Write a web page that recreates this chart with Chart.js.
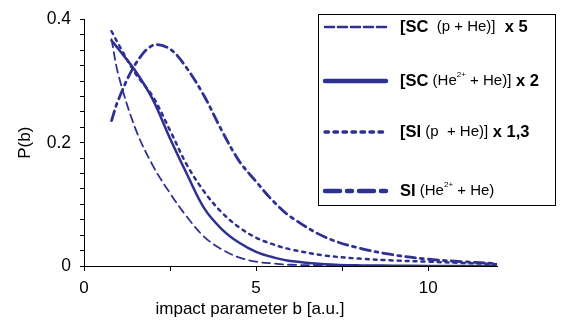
<!DOCTYPE html>
<html>
<head>
<meta charset="utf-8">
<script src="https://cdn.jsdelivr.net/npm/chart.js@4/dist/chart.umd.min.js"></script>
<style>
  html, body { margin: 0; padding: 0; background: #fff; }
  #wrap { width: 561px; height: 325px; position: relative; }
</style>
</head>
<body>
<div id="wrap"><canvas id="chart" width="561" height="325"></canvas></div>
<script>
// impact parameter b [a.u.]
const bValues = [0.8, 1, 1.5, 2, 2.5, 3, 3.5, 4, 4.5, 5, 5.5, 6, 7, 8, 9, 10, 11, 12];

// P(b) series, already scaled as in the legend
const scProton = [0.368, 0.31, 0.222, 0.163, 0.118, 0.079, 0.047, 0.027, 0.014, 0.007, 0.004, 0.002, 0.001, 0.0005, 0, 0, 0, 0];
const scAlpha = [0.366, 0.352, 0.316, 0.27, 0.207, 0.148, 0.093, 0.06, 0.038, 0.023, 0.014, 0.008, 0.003, 0.001, 0.0005, 0, 0, 0];
const siProton = [0.381, 0.36, 0.312, 0.275, 0.22, 0.163, 0.12, 0.087, 0.063, 0.046, 0.035, 0.027, 0.017, 0.012, 0.009, 0.007, 0.005, 0.003];
const siAlpha = [0.236, 0.27, 0.328, 0.358, 0.352, 0.32, 0.275, 0.22, 0.171, 0.137, 0.105, 0.08, 0.047, 0.029, 0.018, 0.011, 0.007, 0.004];

const xTickLabels = ['0', '5', '10'];
const yTickLabels = ['0', '0.2', '0.4'];

const navy = '#2e3192';
const fontFamily = '"Liberation Sans", Arial, sans-serif';

function pts(arr) {
    return arr.map((v, i) => ({ x: bValues[i], y: v }));
}

// legend entries: text pieces as [text, kind] with b = bold, n = normal, s = superscript
const legendItems = [
    { dash: [9, 4], width: 2.5, parts: [['[SC', 'b'], ['  (p + He)]', 'n'], ['  x 5', 'b']] },
    { dash: [], width: 4.5, parts: [['[SC', 'b'], [' (He', 'n'], ['2+', 's'], [' + He)]', 'n'], [' x 2', 'b']] },
    { dash: [3.5, 5.5], width: 3.5, parts: [['[SI', 'b'], [' (p  + He)]', 'n'], [' x 1,3', 'b']] },
    { dash: [15, 7, 5, 7], width: 4.5, parts: [['SI', 'b'], [' (He', 'n'], ['2+', 's'], [' + He)', 'n']] }
];

const legendPlugin = {
    id: 'boxLegend',
    afterDraw(chart) {
        const ctx = chart.ctx;
        ctx.save();

        // x axis title, placed left of centre like the original
        ctx.fillStyle = '#000';
        ctx.font = '17px ' + fontFamily;
        ctx.textAlign = 'center';
        ctx.textBaseline = 'middle';
        ctx.fillText('impact parameter b [a.u.]', 250, 309);
        ctx.textAlign = 'left';

        const bx = 318.5, by = 14.5, bw = 237, bh = 191;
        ctx.fillStyle = '#fff';
        ctx.fillRect(bx, by, bw, bh);
        ctx.strokeStyle = '#000';
        ctx.lineWidth = 1;
        ctx.strokeRect(bx, by, bw, bh);
        const rows = [27, 81, 132, 191];
        legendItems.forEach((item, i) => {
            const y = rows[i];
            ctx.strokeStyle = navy;
            ctx.lineWidth = item.width;
            ctx.lineCap = 'round';
            ctx.setLineDash(item.dash);
            ctx.beginPath();
            ctx.moveTo(325, y);
            ctx.lineTo(386, y);
            ctx.stroke();
            ctx.setLineDash([]);
            let x = 400;
            ctx.fillStyle = '#000';
            ctx.textBaseline = 'middle';
            item.parts.forEach(([txt, kind]) => {
                if (kind === 'b') {
                    ctx.font = 'bold 16.5px ' + fontFamily;
                    ctx.fillText(txt, x, y);
                } else if (kind === 's') {
                    ctx.font = '8px ' + fontFamily;
                    ctx.fillText(txt, x, y - 6);
                } else {
                    ctx.font = '15px ' + fontFamily;
                    ctx.fillText(txt, x, y);
                }
                x += ctx.measureText(txt).width;
            });
        });
        ctx.restore();
    }
};

const ctx = document.getElementById('chart').getContext('2d');
new Chart(ctx, {
    type: 'line',
    data: {
        datasets: [
            { label: 'SC p', data: pts(scProton), borderColor: navy, borderWidth: 1.8, borderDash: [8, 5] },
            { label: 'SC He2+', data: pts(scAlpha), borderColor: navy, borderWidth: 2.5, borderDash: [] },
            { label: 'SI p', data: pts(siProton), borderColor: navy, borderWidth: 2.5, borderDash: [3, 5] },
            { label: 'SI He2+', data: pts(siAlpha), borderColor: navy, borderWidth: 2.8, borderDash: [10, 5, 3, 5] }
        ].map(d => Object.assign(d, { fill: false, pointRadius: 0, tension: 0.35, borderCapStyle: 'round' }))
    },
    options: {
        responsive: false,
        animation: false,
        maintainAspectRatio: false,
        layout: { padding: { top: 10, right: 64, left: 0, bottom: 0 } },
        plugins: { legend: { display: false }, tooltip: { enabled: false } },
        scales: {
            x: {
                type: 'linear',
                min: 0,
                max: 12,
                afterBuildTicks: (scale) => {
                    scale.ticks = [0, 2.5, 5, 7.5, 10].map(v => ({ value: v }));
                },
                afterFit: (scale) => { scale.height = 59; },
                ticks: {
                    color: '#000',
                    font: { size: 17, family: fontFamily },
                    padding: 7,
                    maxRotation: 0,
                    autoSkip: false,
                    callback: (v) => xTickLabels.includes(String(v)) ? String(v) : ''
                },
                grid: { drawOnChartArea: false, color: '#000', tickLength: 5 },
                border: { color: '#000', width: 1 }
            },
            y: {
                min: 0,
                max: 0.4,
                afterBuildTicks: (scale) => {
                    const t = [];
                    for (let i = 0; i <= 16; i++) t.push({ value: i * 0.025 });
                    scale.ticks = t;
                },
                afterFit: (scale) => { scale.width = 84; },
                ticks: {
                    color: '#000',
                    font: { size: 17.5, family: fontFamily },
                    padding: 9,
                    autoSkip: false,
                    callback: (v) => {
                        const s = String(Math.round(v * 1000) / 1000);
                        return yTickLabels.includes(s) ? s : '';
                    }
                },
                grid: { drawOnChartArea: false, color: '#000', tickLength: 4 },
                border: { color: '#000', width: 1 },
                title: {
                    display: true,
                    text: 'P(b)',
                    color: '#000',
                    font: { size: 17, family: fontFamily },
                    padding: { top: 15, bottom: 0 }
                }
            }
        }
    },
    plugins: [legendPlugin]
});
</script>
</body>
</html>
